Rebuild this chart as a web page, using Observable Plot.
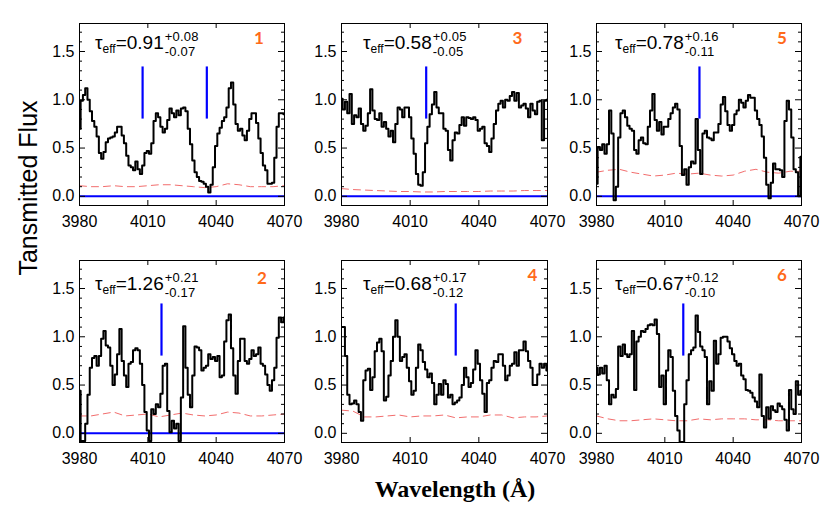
<!DOCTYPE html>
<html><head><meta charset="utf-8">
<script src="https://cdn.jsdelivr.net/npm/d3@7"></script>
<script src="https://cdn.jsdelivr.net/npm/@observablehq/plot@0.6"></script>
<style>
body{margin:0;background:#fff}
#fig{position:relative;width:830px;height:508px;overflow:hidden;font-family:'Liberation Sans',Arial,sans-serif;background:#fff}
.panel{position:absolute}
.tau{position:absolute;display:flex;align-items:flex-start;white-space:nowrap;color:#000}
.tau .main{font-size:19px;line-height:19px}
.tau sub{font-size:12px;line-height:0;vertical-align:-4px}
.tau .stk{display:flex;flex-direction:column;font-size:13px;line-height:14.5px;margin-top:-3.2px;margin-left:1px;letter-spacing:0.2px}
.num{position:absolute;font-family:'Lato',sans-serif;font-weight:bold;font-size:17px;line-height:18px;color:#ff6a1a;transform:translateX(-50%)}
.ylab{position:absolute;left:28.4px;top:188px;transform:translate(-50%,-50%) rotate(-90deg);font-size:25px;white-space:nowrap;color:#000}
.xlab{position:absolute;left:455px;top:489px;transform:translate(-50%,-50%);font-family:'Liberation Serif',serif;font-weight:bold;font-size:24px;white-space:nowrap;color:#000}
</style>
</head><body>
<div id="fig"></div>
<script>
// ---------- data ----------
const wave = [
 3980,3981,3982,3983,3984,3985,3986,3987,3988,3989,
 3990,3991,3992,3993,3994,3995,3996,3997,3998,3999,
 4000,4001,4002,4003,4004,4005,4006,4007,4008,4009,
 4010,4011,4012,4013,4014,4015,4016,4017,4018,4019,
 4020,4021,4022,4023,4024,4025,4026,4027,4028,4029,
 4030,4031,4032,4033,4034,4035,4036,4037,4038,4039,
 4040,4041,4042,4043,4044,4045,4046,4047,4048,4049,
 4050,4051,4052,4053,4054,4055,4056,4057,4058,4059,
 4060,4061,4062,4063,4064,4065,4066,4067,4068,4069,
 4070];
const flux1 = [
 0.70,0.99,1.05,1.12,1.00,0.88,0.78,0.72,0.62,0.45,
 0.39,0.46,0.56,0.60,0.61,0.62,0.66,0.72,0.72,0.63,
 0.55,0.42,0.32,0.30,0.27,0.36,0.28,0.23,0.32,0.45,
 0.47,0.44,0.55,0.78,0.86,0.82,0.72,0.66,0.70,0.79,
 0.91,0.86,0.82,0.89,0.84,0.91,0.92,0.88,0.70,0.54,
 0.37,0.25,0.20,0.16,0.15,0.13,0.10,0.04,0.12,0.30,
 0.52,0.65,0.71,0.78,0.82,0.92,1.12,1.18,0.95,0.75,
 0.68,0.70,0.63,0.58,0.68,0.80,0.86,0.86,0.76,0.60,
 0.45,0.32,0.27,0.13,0.13,0.14,0.40,0.72,0.86,0.86,
 0.85];
const flux2 = [
 0.44,-0.08,-0.08,0.10,0.40,0.68,0.78,0.80,0.70,0.80,
 0.98,1.06,0.91,0.89,0.70,0.50,0.61,0.82,1.08,0.75,
 0.60,0.48,0.72,0.74,0.86,0.88,0.86,0.72,0.50,0.22,
 0.03,-0.08,0.25,0.20,0.30,0.27,0.41,0.70,0.72,0.23,
 0.01,0.13,0.05,0.10,-0.08,0.37,1.11,0.68,0.40,0.27,
 0.60,0.90,0.89,0.86,0.65,0.68,0.70,0.82,0.77,0.79,
 0.75,0.80,0.58,0.60,0.95,1.17,1.23,0.88,0.60,0.41,
 0.75,0.98,0.98,0.75,0.72,0.77,0.86,0.80,0.82,0.89,
 0.72,0.70,0.61,0.50,0.44,0.55,0.68,0.99,1.20,1.15,
 1.20];
const flux3 = [
 1.01,0.90,0.98,0.86,1.06,0.75,0.84,0.82,0.91,0.75,
 0.68,0.73,0.86,1.11,0.89,0.80,0.79,0.86,0.72,0.77,
 0.70,0.62,0.68,0.56,0.75,0.92,0.90,0.82,0.92,0.92,
 0.82,0.60,0.44,0.23,0.12,0.11,0.25,0.55,0.72,0.85,
 0.95,1.08,0.92,0.86,0.86,0.70,0.68,0.48,0.37,0.58,
 0.66,0.65,0.74,0.82,0.73,0.82,0.81,0.80,0.82,0.79,
 0.68,0.70,0.72,0.55,0.52,0.46,0.60,0.75,0.89,0.96,
 0.99,0.92,1.00,0.99,1.04,1.08,0.99,1.07,0.92,0.94,
 0.96,0.91,0.82,0.96,0.89,0.85,0.98,0.99,0.58,0.99,
 1.00];
const flux4 = [
 1.10,1.10,0.80,0.40,0.30,0.31,0.34,0.30,0.22,0.13,
 0.55,0.65,0.67,0.45,0.58,0.85,0.94,0.98,0.85,0.34,
 0.38,0.60,0.75,1.00,1.17,1.00,0.75,0.79,0.82,0.68,
 0.54,0.40,0.44,0.68,0.92,0.86,0.74,0.66,0.58,0.62,
 0.52,0.30,0.40,0.51,0.40,0.55,0.51,0.37,0.40,0.30,
 0.32,0.34,0.37,0.50,0.68,0.58,0.48,0.52,0.66,0.86,
 0.72,0.55,0.41,0.22,0.52,0.55,0.68,0.75,0.74,0.82,
 0.82,0.70,0.55,0.60,0.70,0.72,0.84,0.70,0.86,0.86,
 0.95,0.85,0.75,0.68,0.50,0.50,0.61,0.72,0.68,0.72,
 0.65];
const flux5 = [
 0.13,0.51,0.48,0.54,0.44,0.54,0.89,0.65,-0.04,0.10,
 0.61,0.86,0.89,0.82,0.73,0.70,0.68,0.48,0.44,0.58,
 0.61,0.55,0.54,0.72,0.89,1.06,0.79,0.68,0.77,0.64,
 0.72,0.72,0.80,0.86,0.92,0.96,0.90,0.52,0.22,0.28,
 0.12,0.30,0.36,0.34,0.80,0.48,0.23,0.65,0.68,0.61,
 0.60,0.58,0.66,0.66,0.75,0.95,1.03,0.88,0.74,0.68,
 0.74,0.85,0.89,1.00,0.97,0.92,0.99,1.05,1.02,1.02,
 0.89,0.80,0.74,0.62,0.40,0.12,-0.02,0.14,0.34,0.28,
 0.28,0.27,0.20,0.78,0.99,0.90,0.61,0.28,0.25,0.00,
 0.41];
const flux6 = [
 0.68,0.61,0.68,0.62,0.70,0.55,0.30,0.40,0.37,0.46,
 0.90,0.80,0.92,0.82,0.79,0.82,1.06,0.45,0.95,1.00,
 1.06,1.05,1.08,1.12,1.13,1.12,1.18,1.03,0.48,0.60,
 0.30,0.65,0.86,0.79,0.44,0.18,0.03,-0.09,-0.09,0.30,
 0.55,0.82,0.86,0.89,1.22,1.05,0.90,0.86,0.79,0.30,
 0.54,0.44,0.96,0.72,0.82,0.99,1.00,1.00,0.95,0.88,
 0.82,0.75,0.70,0.72,0.60,0.56,0.45,0.44,0.42,0.37,
 0.33,0.27,0.61,0.18,0.06,0.27,0.15,0.28,0.24,0.22,
 0.31,0.28,0.25,0.14,0.03,0.45,0.25,0.20,0.54,0.40,
 0.44];

const noiseWave = [3980,3985,3990,3995,4000,4005,4010,4015,4020,4025,4030,4035,4040,4045,4050,4055,4060,4065,4070];
const noise1 = [0.11,0.10,0.10,0.11,0.10,0.10,0.11,0.12,0.12,0.11,0.10,0.09,0.10,0.13,0.12,0.10,0.10,0.10,0.11];
const noise2 = [0.18,0.18,0.20,0.22,0.18,0.19,0.20,0.17,0.19,0.21,0.19,0.18,0.19,0.22,0.21,0.18,0.18,0.19,0.20];
const noise3 = [0.08,0.07,0.065,0.06,0.055,0.05,0.05,0.045,0.045,0.05,0.05,0.05,0.05,0.055,0.055,0.055,0.06,0.06,0.06];
const noise4 = [0.24,0.23,0.17,0.17,0.18,0.19,0.17,0.18,0.18,0.19,0.16,0.17,0.17,0.19,0.19,0.16,0.17,0.17,0.18];
const noise5 = [0.25,0.27,0.28,0.25,0.23,0.21,0.22,0.24,0.23,0.24,0.22,0.21,0.22,0.26,0.28,0.25,0.24,0.26,0.26];
const noise6 = [0.18,0.15,0.13,0.13,0.14,0.15,0.14,0.13,0.13,0.15,0.14,0.15,0.15,0.15,0.14,0.14,0.13,0.13,0.13];

const markers1 = [4007.7, 4035.9];
const markers2 = [4016.0];
const markers3 = [4017.0];
const markers4 = [4029.9];
const markers5 = [4025.2];
const markers6 = [4018.1];
const markerSpan = [0.80, 1.34];

const tauValue = ["0.91","1.26","0.58","0.68","0.78","0.67"];
const tauPlus  = ["+0.08","+0.21","+0.05","+0.17","+0.16","+0.12"];
const tauMinus = ["-0.07","-0.17","-0.05","-0.12","-0.11","-0.10"];
const panelLabels = ["1","2","3","4","5","6"];
const zeroLine = [true,true,true,false,true,false];

const xTicks = [3980,4010,4040,4070];
const yTicks = [0.0,0.5,1.0,1.5];
const yMinor = [0.1,0.2,0.3,0.4,0.6,0.7,0.8,0.9,1.1,1.2,1.3,1.4,1.6,1.7];
const xDomain = [3980,4070];
const yDomain = [-0.095,1.79];

const fluxes = [flux1,flux2,flux3,flux4,flux5,flux6];
const noises = [noise1,noise2,noise3,noise4,noise5,noise6];
const markers = [markers1,markers2,markers3,markers4,markers5,markers6];

// ---------- layout ----------
const colLeft = [78.7,340.7,596];
const colW = [205,206,205];
const rowTop = [23,260];
const FH = 182;
const ML=48, MR=26, MT=10, MB=34;
const panelCol = [0,0,1,1,2,2];
const panelRow = [0,1,0,1,0,1];
const tauLeft = [95,363,615];
const tauTop = [33.2,274.2];
const numPos = [[259,29],[262,269],[517.5,29],[532.5,265.7],[782,29],[782,265.7]];

const fig = document.getElementById("fig");
const blue = "#0000ff";

for (let k=0;k<6;k++){
  const W = colW[panelCol[k]];
  const data = wave.map((w,i)=>({w, f: fluxes[k][i]}));
  const nd = noiseWave.map((w,i)=>({w, f: noises[k][i]}));
  const marks = [
    Plot.line(nd, {x:"w", y:"f", stroke:"#f26d6d", strokeWidth:1, strokeDasharray:"7,5"}),
    zeroLine[k] ? Plot.ruleY([0], {stroke:blue, strokeWidth:2}) : null,
    Plot.line(data, {x:"w", y:"f", curve:"step", stroke:"#000", strokeWidth:2, clip:true}),
    Plot.ruleX(markers[k], {x:d=>d, y1:markerSpan[0], y2:markerSpan[1], stroke:blue, strokeWidth:2.2}),
    Plot.tickX(xTicks, {x:d=>d, insetTop:FH-5, stroke:"#000"}),
    Plot.tickX(xTicks, {x:d=>d, insetBottom:FH-5, stroke:"#000"}),
    Plot.tickY(yTicks, {y:d=>d, insetRight:W-6, stroke:"#000"}),
    Plot.tickY(yTicks, {y:d=>d, insetLeft:W-6, stroke:"#000"}),
    Plot.tickY(yMinor, {y:d=>d, insetRight:W-3, stroke:"#000"}),
    Plot.tickY(yMinor, {y:d=>d, insetLeft:W-3, stroke:"#000"}),
    Plot.axisX({ticks:xTicks, tickSize:0, tickPadding:10, tickFormat:d=>String(d), label:null, fontSize:16, fill:"#000"}),
    Plot.axisY({ticks:yTicks, tickSize:0, tickPadding:5, tickFormat:d=>d.toFixed(1), label:null, fontSize:16, fill:"#000"}),
    Plot.frame({stroke:"#000", strokeWidth:1})
  ];
  const svg = Plot.plot({
    width: ML+W+MR, height: MT+FH+MB,
    marginLeft:ML, marginRight:MR, marginTop:MT, marginBottom:MB,
    x:{domain:xDomain}, y:{domain:yDomain},
    style:{fontSize:"16px", fontFamily:"'Liberation Sans', Arial, sans-serif", background:"transparent", overflow:"visible", color:"#000"},
    marks
  });
  const holder = document.createElement("div");
  holder.className = "panel";
  holder.style.left = (colLeft[panelCol[k]]-ML)+"px";
  holder.style.top = (rowTop[panelRow[k]]-MT)+"px";
  holder.appendChild(svg);
  fig.appendChild(holder);

  const t = document.createElement("div");
  t.className = "tau";
  t.style.left = tauLeft[panelCol[k]]+"px";
  t.style.top = tauTop[panelRow[k]]+"px";
  t.innerHTML = `<span class="main">\u03C4<sub>eff</sub>=${tauValue[k]}</span><span class="stk"><span>${tauPlus[k]}</span><span>${tauMinus[k]}</span></span>`;
  fig.appendChild(t);

  const n = document.createElement("div");
  n.className = "num";
  n.style.left = numPos[k][0]+"px";
  n.style.top = numPos[k][1]+"px";
  n.textContent = panelLabels[k];
  fig.appendChild(n);
}
const yl = document.createElement("div");
yl.className = "ylab"; yl.textContent = "Tansmitted Flux";
fig.appendChild(yl);
const xl = document.createElement("div");
xl.className = "xlab"; xl.textContent = "Wavelength (\u00C5)";
fig.appendChild(xl);
</script>
</body></html>
